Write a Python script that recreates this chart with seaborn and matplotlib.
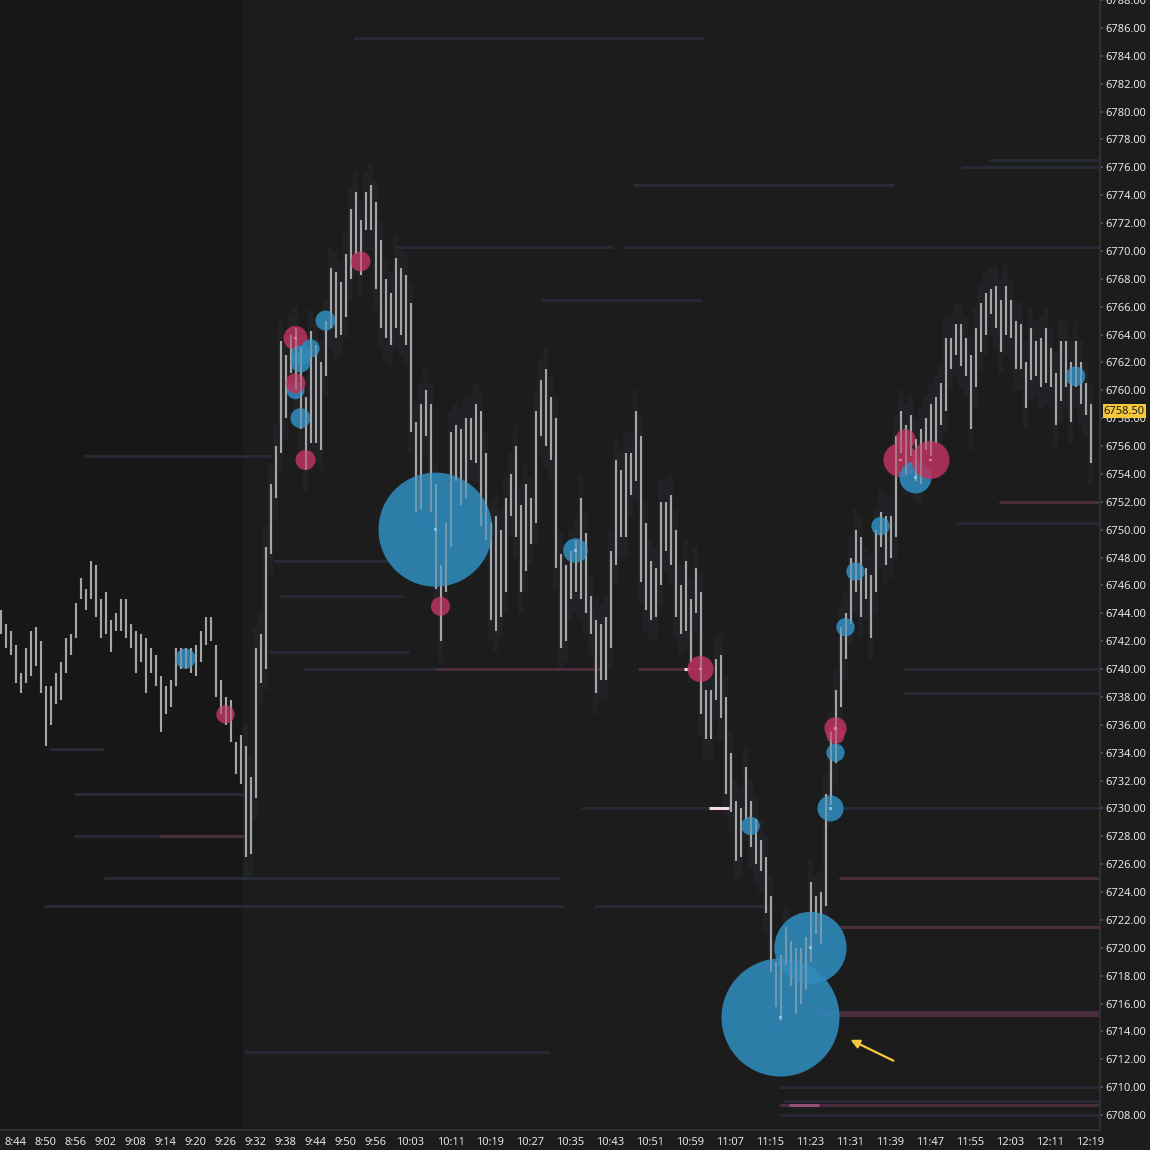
import numpy as np
import pandas as pd
import matplotlib
matplotlib.use("Agg")
import matplotlib.pyplot as plt
import matplotlib.transforms as mtransforms
import seaborn as sns

# ---- data -------------------------------------------------------------
session_start = "8:41"      # first 1-minute bar
cash_open = "9:30"          # end of the pre-market shading

bar_high = [
    6744.25, 6743.25, 6742.75, 6741.75, 6739.75, 6741.5, 6742.75, 6743.0, 6742.0, 6738.75,
    6738.75, 6739.75, 6740.5, 6742.25, 6742.5, 6744.75, 6746.5, 6745.75, 6747.75, 6747.5,
    6745.0, 6745.5, 6743.5, 6744.0, 6745.0, 6745.0, 6743.25, 6742.75, 6742.5, 6742.25,
    6741.5, 6741.0, 6739.5, 6738.75, 6739.25, 6741.5, 6741.5, 6741.5, 6741.5, 6741.75,
    6742.75, 6743.75, 6743.75, 6741.75, 6739.25, 6738.0, 6737.75, 6734.75, 6735.25, 6734.5,
    6732.25, 6741.5, 6742.5, 6748.75, 6753.25, 6756.0, 6763.5, 6762.5, 6764.0, 6764.5,
    6763.0, 6759.5, 6764.25, 6763.25, 6762.0, 6765.0, 6768.75, 6768.5, 6767.75, 6769.75,
    6773.0, 6774.25, 6772.25, 6774.25, 6774.75, 6773.5, 6770.75, 6768.0, 6767.0, 6769.5,
    6768.75, 6768.25, 6766.25, 6757.75, 6759.0, 6760.0, 6759.0, 6753.25, 6747.5, 6750.5,
    6757.0, 6757.5, 6757.25, 6758.0, 6758.0, 6759.0, 6758.5, 6755.5, 6750.5, 6751.0,
    6750.0, 6752.25, 6754.0, 6756.0, 6751.75, 6753.25, 6752.25, 6758.5, 6760.75, 6761.5,
    6759.5, 6758.0, 6748.25, 6747.5, 6748.5, 6749.25, 6752.25, 6749.75, 6745.25, 6743.5,
    6743.25, 6743.75, 6748.5, 6755.0, 6754.25, 6755.5, 6755.5, 6758.5, 6756.75, 6750.5,
    6747.75, 6747.25, 6752.0, 6752.0, 6752.5, 6750.0, 6746.0, 6747.75, 6745.0, 6747.25,
    6745.5, 6738.5, 6738.5, 6740.75, 6741.0, 6738.0, 6734.0, 6730.5, 6730.0, 6733.0,
    6730.5, 6729.25, 6727.75, 6726.5, 6723.75, 6719.0, 6719.5, 6721.5, 6720.5, 6720.0,
    6720.0, 6720.75, 6724.75, 6723.75, 6724.0, 6731.0, 6735.5, 6738.5, 6743.0, 6744.0,
    6748.0, 6750.0, 6749.5, 6747.25, 6746.75, 6750.0, 6751.25, 6751.0, 6751.0, 6756.75,
    6758.5, 6757.5, 6758.25, 6756.5, 6757.25, 6758.0, 6759.0, 6759.5, 6760.5, 6763.75,
    6763.75, 6764.75, 6764.75, 6763.75, 6762.5, 6764.5, 6766.25, 6767.0, 6767.25, 6767.5,
    6766.5, 6767.5, 6766.5, 6765.0, 6764.75, 6762.0, 6764.5, 6763.5, 6763.75, 6764.5,
    6763.0, 6761.25, 6763.5, 6763.5, 6762.0, 6763.5, 6762.0, 6760.5, 6759.0,
]
bar_low = [
    6742.5, 6741.5, 6741.0, 6739.0, 6738.25, 6739.0, 6739.5, 6740.25, 6738.25, 6734.5,
    6736.0, 6737.5, 6737.75, 6739.75, 6741.0, 6742.25, 6745.0, 6744.25, 6745.0, 6743.75,
    6742.25, 6742.5, 6741.25, 6742.75, 6742.75, 6742.25, 6741.5, 6739.75, 6740.5, 6738.25,
    6739.75, 6738.75, 6735.5, 6736.75, 6737.25, 6738.75, 6740.0, 6740.0, 6739.75, 6739.5,
    6740.5, 6741.75, 6742.0, 6738.0, 6736.75, 6736.0, 6734.75, 6732.5, 6731.75, 6726.5,
    6726.75, 6730.75, 6739.0, 6740.0, 6748.25, 6752.25, 6755.5, 6758.0, 6761.25, 6760.0,
    6757.25, 6754.25, 6756.25, 6756.25, 6755.75, 6761.0, 6764.5, 6763.75, 6764.0, 6765.25,
    6768.0, 6769.75, 6768.25, 6771.5, 6771.5, 6767.25, 6764.5, 6763.75, 6763.25, 6764.5,
    6764.0, 6763.25, 6757.0, 6751.25, 6751.5, 6756.75, 6751.25, 6745.75, 6742.0, 6745.5,
    6748.75, 6753.5, 6751.75, 6752.25, 6755.0, 6754.75, 6750.25, 6749.25, 6743.5, 6742.75,
    6743.75, 6745.5, 6751.0, 6749.5, 6745.5, 6747.0, 6749.0, 6750.5, 6756.75, 6756.0,
    6755.0, 6747.25, 6741.5, 6742.0, 6745.0, 6745.5, 6745.0, 6744.0, 6742.5, 6738.25,
    6739.25, 6739.25, 6741.5, 6747.5, 6749.5, 6749.5, 6752.5, 6753.5, 6746.25, 6744.25,
    6743.5, 6743.75, 6746.0, 6748.5, 6747.5, 6743.75, 6742.5, 6742.75, 6740.5, 6744.0,
    6736.75, 6735.0, 6735.0, 6737.75, 6736.5, 6731.0, 6729.75, 6726.25, 6726.5, 6729.25,
    6727.25, 6726.0, 6725.5, 6722.5, 6718.25, 6715.75, 6714.75, 6718.75, 6717.25, 6715.25,
    6716.0, 6717.0, 6719.0, 6721.0, 6720.25, 6723.0, 6730.25, 6733.25, 6737.25, 6740.75,
    6743.25, 6745.5, 6743.75, 6745.0, 6742.25, 6745.5, 6748.75, 6747.5, 6748.0, 6749.5,
    6755.5, 6754.0, 6755.25, 6753.5, 6753.25, 6755.75, 6755.25, 6756.25, 6757.5, 6758.5,
    6761.5, 6762.5, 6761.75, 6761.0, 6757.25, 6760.25, 6762.75, 6764.0, 6765.5, 6764.5,
    6762.75, 6764.0, 6763.75, 6761.5, 6761.5, 6758.75, 6760.75, 6761.0, 6760.25, 6760.5,
    6760.25, 6757.5, 6759.25, 6760.25, 6757.75, 6760.25, 6759.0, 6758.25, 6754.75,
]

# large trades: bar index, price, size, aggressor side
bubble_bar = [37, 45, 59, 62, 60, 60, 59, 59, 60, 61, 65, 72, 87, 88, 115, 140, 150,
              156, 162, 166, 167, 167, 167, 169, 171, 176, 180, 181, 183, 186, 215]
bubble_price = [6740.75, 6736.75, 6763.75, 6763.0, 6762.5, 6762.0, 6760.0, 6760.5,
                6758.0, 6755.0, 6765.0, 6769.25, 6750.0, 6744.5, 6748.5, 6740.0,
                6728.75, 6715.0, 6720.0, 6730.0, 6734.0, 6735.25, 6735.75, 6743.0,
                6747.0, 6750.25, 6755.0, 6756.5, 6753.75, 6755.0, 6761.0]
bubble_size = [50, 42, 72, 42, 50, 50, 40, 50, 50, 50, 50, 50, 1625, 46, 75, 85,
               42, 1740, 650, 85, 42, 40, 62, 42, 42, 42, 145, 50, 128, 180, 48]
bubble_side = ["buy", "sell", "sell", "buy", "buy", "buy", "buy", "sell", "buy", "sell",
               "buy", "sell", "buy", "sell", "buy", "sell", "buy", "buy", "buy", "buy",
               "buy", "sell", "sell", "buy", "buy", "buy", "sell", "sell", "buy", "sell",
               "buy"]

# resting liquidity levels: price, first bar, last bar, kind, size
level_price = [6785.25, 6776.5, 6776.0, 6774.75, 6770.25, 6770.25, 6770.25, 6766.5,
               6755.25, 6752.0, 6750.5, 6747.75, 6745.25, 6741.25, 6740.0, 6740.0,
               6740.0, 6740.0, 6738.25, 6734.25, 6731.0, 6728.0, 6728.0, 6730.0,
               6730.0, 6725.0, 6725.0, 6723.0, 6723.0, 6721.5, 6715.25, 6712.5,
               6710.0, 6709.0, 6708.75, 6708.0, 6730.0, 6740.0, 6708.75]
level_start = [70.6, 197.6, 192.0, 126.4, 79.0, 124.4, 189.6, 108.0,
               16.6, 199.6, 191.0, 54.6, 55.6, 53.6, 60.6, 86.6,
               127.4, 180.6, 180.6, 9.6, 14.6, 14.6, 31.6, 116.0,
               167.6, 20.6, 167.6, 8.6, 118.6, 167.6, 163.6, 48.6,
               155.6, 156.6, 155.6, 155.6, 141.6, 136.6, 157.6]
level_end = [140.4, 219.6, 219.6, 178.6, 122.4, 219.6, 216.0, 140.0,
             54.0, 219.6, 219.6, 77.6, 80.6, 81.6, 86.6, 120.0,
             140.0, 219.6, 219.6, 20.6, 48.6, 31.6, 48.6, 141.6,
             219.6, 111.6, 219.6, 112.6, 154.0, 219.6, 219.6, 109.6,
             219.6, 219.6, 219.6, 219.6, 145.6, 137.6, 163.6]
level_kind = ["bid", "bid", "bid", "bid", "bid", "bid", "ask", "bid",
              "bid", "ask", "bid", "bid", "bid", "bid", "bid", "ask",
              "ask", "bid", "bid", "bid", "bid", "bid", "ask", "bid",
              "bid", "bid", "ask", "bid", "bid", "ask", "ask", "bid",
              "bid", "bid", "ask", "bid", "hot", "hot", "ask_hot"]
level_size = [1, 1, 1, 1, 1, 1, 1, 1,
              1, 1, 1, 1, 1, 1, 1, 1,
              1, 1, 1, 1, 1, 1, 1, 1,
              1, 1, 1, 1, 1, 1, 2, 1,
              1, 1, 1, 1, 1, 1, 1]

time_labels = ["8:44", "8:50", "8:56", "9:02", "9:08", "9:14", "9:20", "9:26", "9:32",
               "9:38", "9:44", "9:50", "9:56", "10:03", "10:11", "10:19", "10:27",
               "10:35", "10:43", "10:51", "10:59", "11:07", "11:15", "11:23", "11:31",
               "11:39", "11:47", "11:55", "12:03", "12:11", "12:19"]
price_ticks = np.arange(6708, 6790, 2)
last_price = 6758.50
arrow_head = (170.0, 6713.4)
arrow_tail = (178.6, 6711.9)


def minute_index(label):
    h, m = label.split(":")
    h0, m0 = session_start.split(":")
    return (int(h) * 60 + int(m)) - (int(h0) * 60 + int(m0))


bars = pd.DataFrame({"bar": np.arange(len(bar_high)), "high": bar_high, "low": bar_low})
bubbles = pd.DataFrame({"bar": bubble_bar, "price": bubble_price,
                        "size": bubble_size, "side": bubble_side})
levels = pd.DataFrame({"price": level_price, "start": level_start, "end": level_end,
                       "kind": level_kind, "size": level_size})

# ---- style ------------------------------------------------------------
BG = "#1c1c1c"
BAR = "#a6a6a6"
sns.set_theme(style="dark", rc={"axes.facecolor": BG, "figure.facecolor": BG,
                                "axes.edgecolor": "#3a3a3a", "text.color": "#e6e6e6",
                                "xtick.color": "#e6e6e6", "ytick.color": "#e6e6e6"})
plt.rcParams["font.family"] = ["Noto Sans", "DejaVu Sans"]

fig = plt.figure(figsize=(11.5, 11.5), dpi=100)
ax = fig.add_axes([0, 20 / 1150, 1100 / 1150, 1130 / 1150])
ax.set_xlim(-0.1, 219.9)
ax.set_ylim(6706.93, 6787.87)

# pre-market shading
open_idx = minute_index(cash_open)
ax.axvspan(-1, open_idx - 0.5, color="#171717", zorder=0, lw=0)

# faint book depth around traded range after the open
rth = bars[bars["bar"] >= open_idx]
ax.bar(rth["bar"], rth["high"] - rth["low"] + 3.0, bottom=rth["low"] - 1.5,
       width=1.0, color="#262a34", alpha=0.45, linewidth=0, zorder=0.5)

# liquidity levels
level_colors = {"bid": "#252a35", "ask": "#4a2d3d", "hot": "#f3d9e6", "ask_hot": "#955078"}
for kind, grp in levels.groupby("kind"):
    for sz, g in grp.groupby("size"):
        ax.hlines(g["price"], g["start"], g["end"], color=level_colors[kind],
                  linewidth=2.2 * sz, zorder=1)

# price bars
ax.vlines(bars["bar"], bars["low"], bars["high"], color=BAR, linewidth=1.5, zorder=2)

# trade bubbles
palette = {"buy": "#2f8bbd", "sell": "#b8325c"}
sns.scatterplot(data=bubbles, x="bar", y="price", hue="side", palette=palette,
                s=bubbles["size"] * 4.15, alpha=0.88, linewidth=0, legend=False,
                ax=ax, zorder=3)
# bars seen through the bubbles
ax.vlines(bars["bar"], bars["low"], bars["high"], color=BAR, linewidth=1.5,
          alpha=0.5, zorder=4)
center_palette = {"buy": "#8fcdf0", "sell": "#f08cac"}
big = bubbles[bubbles["size"] >= 60]
sns.scatterplot(data=big, x="bar", y="price", hue="side", palette=center_palette,
                marker="s", s=4, linewidth=0, alpha=0.8, legend=False, ax=ax, zorder=5)

# arrow
ax.annotate("", xy=arrow_head, xytext=arrow_tail,
            arrowprops=dict(arrowstyle="-|>", color="#f5c83c", lw=1.6,
                            mutation_scale=13, shrinkA=0, shrinkB=0), zorder=6)

# axes
for side in ["left", "top"]:
    ax.spines[side].set_visible(False)
ax.spines["right"].set_color("#333333")
ax.spines["bottom"].set_color("#333333")
ax.yaxis.tick_right()
ax.set_yticks(price_ticks)
ax.set_yticklabels([f"{p:.2f}" for p in price_ticks])
ax.tick_params(axis="y", length=2, pad=2, labelsize=8, color="#555555")
ax.set_xticks([minute_index(t) for t in time_labels])
ax.set_xticklabels(time_labels)
ax.tick_params(axis="x", length=3, pad=2, labelsize=8, color="#555555")
ax.set_xlabel("")
ax.set_ylabel("")
ax.grid(False)

# last price marker
trans = mtransforms.blended_transform_factory(ax.transAxes, ax.transData)
ax.text(1.0035, last_price, f"{last_price:.2f}", transform=trans, fontsize=8,
        color="#1a1a1a", va="center", ha="left", zorder=10, clip_on=False,
        bbox=dict(boxstyle="square,pad=0.12", fc="#f5c83c", ec="none"))

fig.savefig("out.png", dpi=100, facecolor=BG)
